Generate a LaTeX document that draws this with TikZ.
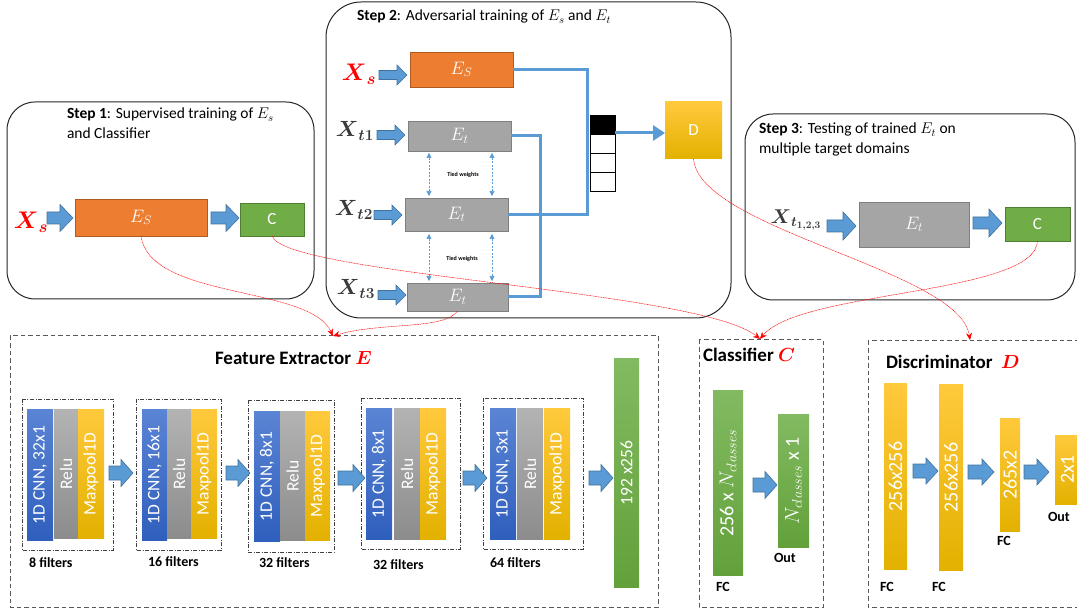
\RequirePackage{fix-cm}
\documentclass[tikz,border=0pt]{standalone}
\usepackage{amsmath}
\usepackage{fontspec}
\setmainfont{Carlito}
\usetikzlibrary{arrows.meta,calc}
\definecolor{cblue}{HTML}{5B9BD5}
\definecolor{cblueD}{HTML}{41719C}
\definecolor{corange}{HTML}{ED7D31}
\definecolor{corangeD}{HTML}{AE5A21}
\definecolor{cgray}{HTML}{A5A5A5}
\definecolor{cgrayD}{HTML}{7F7F7F}
\definecolor{cgreen}{HTML}{70AD47}
\definecolor{cgreenD}{HTML}{507E32}
\definecolor{gold1}{HTML}{FFC93C}
\definecolor{gold2}{HTML}{E3B100}
\definecolor{bar1}{HTML}{5A84D4}
\definecolor{bar2}{HTML}{2F5FBD}
\definecolor{gr1}{HTML}{B3B3B3}
\definecolor{gr2}{HTML}{8C8C8C}
\definecolor{gn1}{HTML}{82BA61}
\definecolor{gn2}{HTML}{62A13A}
\definecolor{xgray}{HTML}{3A3A3A}
\newcommand\fsz[2]{\fontsize{#1}{#2}\selectfont}
\newcommand\bx[7]{\node[#6, minimum width={(#4-#2)*1pt}, minimum height={(#5-#3)*1pt}] (#1) at ({(#2+#4)/2},{(#3+#5)/2}) {#7};}
\newcommand\vbar[7]{\bx{#1}{#2}{#3}{#4}{#5}{#6}{}\node[vtext] at (#1.center) {#7};}
\newcommand\blkarrow[6]{\filldraw[blockarrow] ({#1},{#3-#4}) -- ({#2-#6},{#3-#4}) -- ({#2-#6},{#3-#5}) -- ({#2},{#3}) -- ({#2-#6},{#3+#5}) -- ({#2-#6},{#3+#4}) -- ({#1},{#3+#4}) -- cycle;}
\begin{document}
\begin{tikzpicture}[x=1pt,y=-1pt,
 every node/.style={inner sep=0pt, outer sep=0pt},
 orangebox/.style={draw=corangeD, fill=corange, line width=0.8pt, text=white},
 graybox/.style={draw=cgrayD, fill=cgray, line width=0.8pt, text=white},
 greenbox/.style={draw=cgreenD, fill=cgreen, line width=0.8pt, text=white},
 goldbox/.style={top color=gold1, bottom color=gold2, draw=none, text=white},
 bluebar/.style={top color=bar1, bottom color=bar2},
 graybar/.style={top color=gr1, bottom color=gr2},
 greenbar/.style={top color=gn1, bottom color=gn2},
 intext/.style={font=\fsz{18}{20}},
 lettext/.style={font=\fsz{17}{20}},
 vtext/.style={text=white, rotate=90, font=\fsz{17.5}{20}},
 btext/.style={text=white, rotate=90, font=\fsz{20}{22}},
 blockarrow/.style={fill=cblue, draw=cblueD, line width=0.6pt},
 bline/.style={draw=cblue, line width=3pt},
 tied/.style={draw=cblue, line width=0.6pt, dash pattern=on 2pt off 1.5pt, {Triangle[length=5pt,width=5pt]}-{Triangle[length=5pt,width=5pt]}},
 redlink/.style={draw=red, line width=0.5pt, dash pattern=on 1pt off 0.6pt, -{Stealth[length=7pt,width=6pt]}},
 stepframe/.style={draw=black!85, line width=1pt},
 fedash/.style={draw=black!65, line width=1pt, dash pattern=on 4.5pt off 3pt},
 blockdash/.style={draw=black!75, line width=0.8pt, dash pattern=on 4pt off 1.5pt on 1pt off 1.5pt},
 xred/.style={text=red, font=\fsz{24}{28}},
 xgr/.style={text=xgray, font=\fsz{22}{26}},
 steptext/.style={anchor=north west, align=left, font=\fsz{15.5}{20}},
 filt/.style={anchor=west, font=\bfseries\fsz{14}{16}},
 ttl/.style={anchor=west, font=\bfseries\fsz{19}{22}},
 tiedtxt/.style={font=\bfseries\fsz{6}{7}}
]
\useasboundingbox (0,0) rectangle (1077,612);
\clip (0,0) rectangle (1077,612);

% ---------------- Step frames
\draw[stepframe, rounded corners=28pt] (7,102) rectangle (314,299);
\draw[stepframe, rounded corners=35pt] (326,2) rectangle (731,318);
\draw[stepframe, rounded corners=28pt] (745,114) rectangle (1075,300);

% ---------------- Step 1
\node[steptext] at (67,108) {\textbf{Step 1}: Supervised training of $E_s$\\and Classifier};
\node[xred] (xs1) at (31,222) {$\boldsymbol{X}_{\boldsymbol{s}}$};
\bx{es1}{75}{199}{207}{236}{orangebox, intext}{$E_S$}
\bx{c1}{240}{203}{304}{236}{greenbox, lettext}{C}
\blkarrow{47}{73}{218}{6}{13.5}{13}
\blkarrow{211}{239}{218}{6}{13.5}{13}

% ---------------- Step 2
\node[steptext] at (357,10) {\textbf{Step 2}: Adversarial training of $E_s$ and $E_t$};
\node[xred] (xs2) at (359,74) {$\boldsymbol{X}_{\boldsymbol{s}}$};
\node[xgr] (xt1) at (355,131) {$\boldsymbol{X}_{\boldsymbol{t1}}$};
\node[xgr] (xt2) at (354,210) {$\boldsymbol{X}_{\boldsymbol{t2}}$};
\node[xgr] (xt3) at (356,289) {$\boldsymbol{X}_{\boldsymbol{t3}}$};
\bx{es2}{410}{52}{513}{87}{orangebox, intext}{$E_S$}
\bx{et1}{408}{121}{511}{151}{graybox, intext}{$E_t$}
\bx{et2}{405}{198}{508}{231}{graybox, intext}{$E_t$}
\bx{et3}{407}{283}{508}{311}{graybox, intext}{$E_t$}
\blkarrow{379}{407}{75}{4.5}{10}{10}
\blkarrow{377}{405}{135}{4.5}{10}{10}
\blkarrow{374}{402}{215}{4.5}{10}{10}
\blkarrow{378}{406}{295}{4.5}{10}{10}
\coordinate (j1) at (587,214.5);
\coordinate (j2) at (540,297);
\draw[bline] (et1.east) -| (j2) -- (et3.east);
\draw[bline] (es2.east) -| (j1) -- (et2.east);
\bx{s1}{590}{115}{615}{134}{draw=black, fill=black, line width=0.8pt}{}
\bx{s2}{590}{134}{615}{153}{draw=black, fill=white, line width=0.8pt}{}
\bx{s3}{590}{153}{615}{172}{draw=black, fill=white, line width=0.8pt}{}
\bx{s4}{590}{172}{615}{191}{draw=black, fill=white, line width=0.8pt}{}
\bx{dbox}{665}{102}{722}{159}{goldbox, lettext}{D}
\coordinate (a1) at (615,133);
\draw[bline, -{Triangle[length=12pt,width=15pt]}] (a1) -- (a1 -| dbox.west);
\draw[tied] (429,153) -- (429,196);
\draw[tied] (492,153) -- (492,196);
\draw[tied] (429,234) -- (429,281);
\draw[tied] (492,234) -- (492,281);
\node[tiedtxt] at (463,175) {Tied weights};
\node[tiedtxt] at (462,259) {Tied weights};

% ---------------- Step 3
\node[steptext] at (759,123) {\textbf{Step 3}: Testing of trained $E_t$ on\\multiple target domains};
\node[xgr, font=\fsz{20}{24}] (xt4) at (796,220) {$\boldsymbol{X}_{\boldsymbol{t}_{\boldsymbol{1,2,3}}}$};
\bx{et4}{859}{202}{969}{247}{graybox, intext}{$E_t$}
\bx{c3}{1005}{207}{1070}{241}{greenbox, lettext}{C}
\blkarrow{827}{856}{226}{6}{14}{13}
\blkarrow{973}{1002}{223}{6}{14}{13}

% ---------------- Feature extractor
\draw[fedash] (10,336) rectangle (658,607);
\node[ttl] (fet) at (215,358) {Feature Extractor {\color{red}$\boldsymbol{E}$}};
\draw[blockdash] (22,399) rectangle (113,550);
\draw[blockdash] (136,399) rectangle (221,550);
\draw[blockdash] (248,400) rectangle (334,552);
\draw[blockdash] (361,398) rectangle (460,549);
\draw[blockdash] (483,398) rectangle (583,549);
\vbar{b1a}{27}{410}{53}{540}{bluebar}{1D CNN, 32x1}
\vbar{b1b}{54}{410}{78}{538}{graybar}{Relu}
\vbar{b1c}{78}{410}{104}{538}{goldbox}{Maxpool1D}
\vbar{b2a}{142}{410}{167}{540}{bluebar}{1D CNN, 16x1}
\vbar{b2b}{167}{410}{191}{538}{graybar}{Relu}
\vbar{b2c}{191}{410}{217}{538}{goldbox}{Maxpool1D}
\vbar{b3a}{254}{412}{280}{541}{bluebar}{1D CNN, 8x1}
\vbar{b3b}{280}{412}{305}{540}{graybar}{Relu}
\vbar{b3c}{305}{412}{330}{540}{goldbox}{Maxpool1D}
\vbar{b4a}{366}{409}{392}{539}{bluebar}{1D CNN, 8x1}
\vbar{b4b}{394}{409}{420}{539}{graybar}{Relu}
\vbar{b4c}{420}{409}{446}{539}{goldbox}{Maxpool1D}
\vbar{b5a}{490}{409}{516}{539}{bluebar}{1D CNN, 3x1}
\vbar{b5b}{517}{409}{543}{539}{graybar}{Relu}
\vbar{b5c}{544}{409}{570}{539}{goldbox}{Maxpool1D}
\vbar{fout}{614}{359}{639}{587}{greenbar}{192 x256}
\blkarrow{109}{133}{473}{7}{13.5}{12}
\blkarrow{226}{250}{473}{7}{13.5}{12}
\blkarrow{338}{365}{478}{7}{13.5}{12}
\blkarrow{463}{487}{478}{7}{13.5}{12}
\blkarrow{589}{613}{478}{7}{13.5}{12}
\node[filt] at (29,563) {8 filters};
\node[filt] at (148,562) {16 filters};
\node[filt] at (259,563) {32 filters};
\node[filt] at (373,565) {32 filters};
\node[filt] at (490,563) {64 filters};

% ---------------- Classifier
\draw[fedash] (699,340) rectangle (823,607);
\node[ttl] (clt) at (703,355) {Classifier {\color{red}$\boldsymbol{C}$}};
\bx{cb1}{713}{391}{743}{575}{greenbar}{}
\node[btext] at (cb1.center) {256 x $N_{classes}$};
\bx{cb2}{778}{415}{809}{547}{greenbar}{}
\node[btext] at (cb2.center) {$N_{classes}$ x 1};
\blkarrow{753}{777}{485}{7}{13.5}{12}
\node[filt] at (774,558) {Out};
\node[filt] at (716,587) {FC};

% ---------------- Discriminator
\draw[fedash] (868,341) rectangle (1090,607);
\node[ttl] (dit) at (886,362) {Discriminator\ \ {\color{red}$\boldsymbol{D}$}};
\bx{db1}{884}{384}{907}{569}{goldbox}{}
\node[btext] at (db1.center) {256x256};
\bx{db2}{939}{385}{963}{570}{goldbox}{}
\node[btext] at (db2.center) {256x256};
\bx{db3}{1000}{419}{1020}{531}{goldbox}{}
\node[btext] at (db3.center) {265x2};
\bx{db4}{1055}{435}{1080}{504}{goldbox}{}
\node[btext] at (db4.center) {2x1};
\blkarrow{913}{938}{471}{7}{13}{12}
\blkarrow{968}{994}{472}{7}{13}{12}
\blkarrow{1024}{1049}{472}{7}{13}{12}
\node[filt] at (880,587) {FC};
\node[filt] at (932,587) {FC};
\node[filt] at (997,541) {FC};
\node[filt] at (1048,517) {Out};

% ---------------- red links
\coordinate (fearr) at (333,336);
\coordinate (clsarr) at (760,339);
\coordinate (disarr) at (970,340);
\draw[redlink] (es1.south) .. controls (150,300) and (310,285) .. (fearr);
\draw[redlink] (et3.south) .. controls (445,330) and (380,322) .. (fearr);
\draw[redlink] (c1.south) .. controls (285,275) and (700,290) .. (clsarr);
\draw[redlink] (c3.south) .. controls (1035,295) and (800,290) .. (clsarr);
\draw[redlink] (dbox.south) .. controls (700,230) and (960,270) .. (disarr);
\end{tikzpicture}
\end{document}
